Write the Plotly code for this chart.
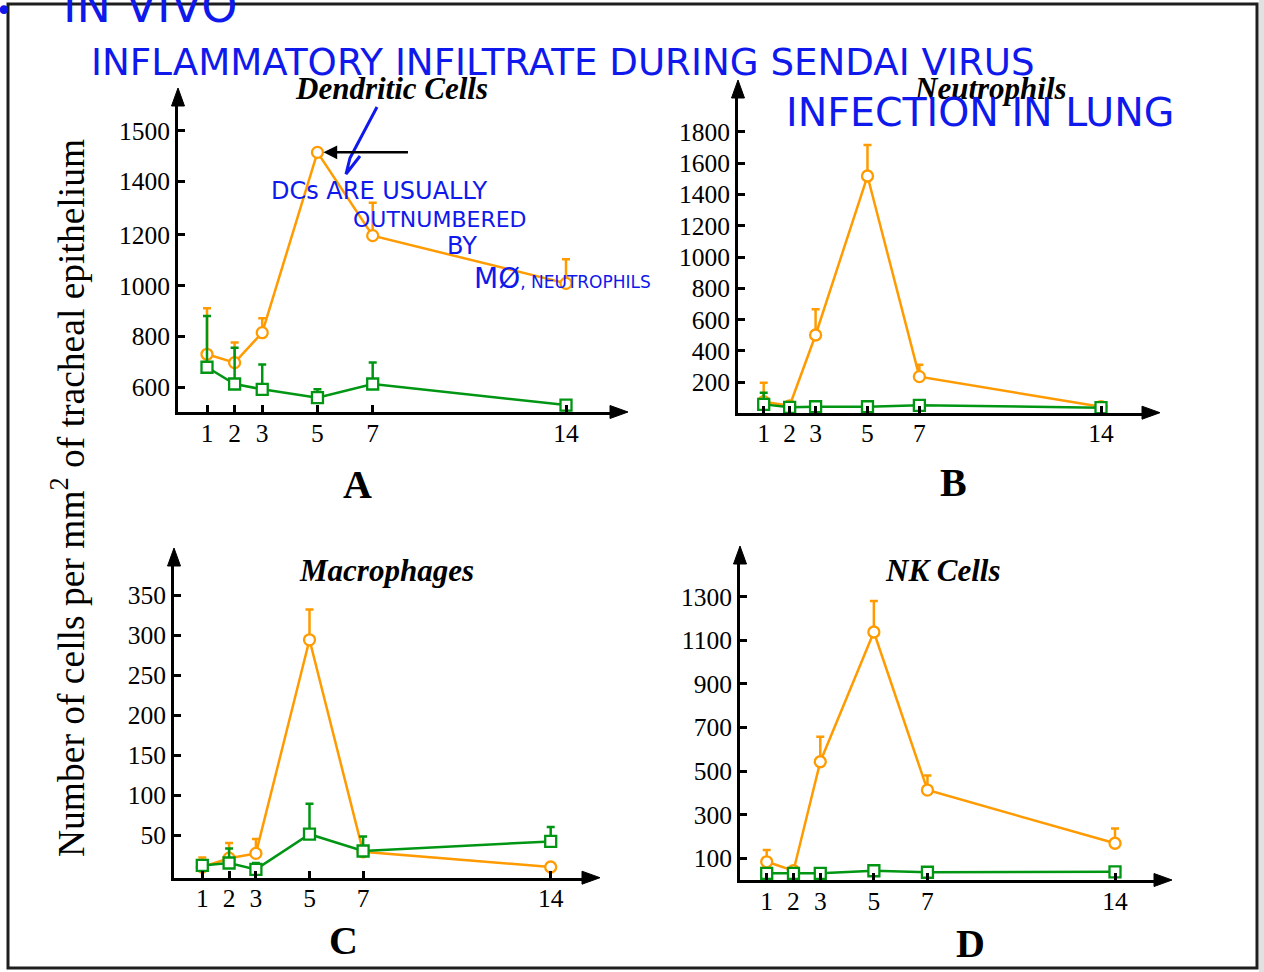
import plotly.graph_objects as go

W, H = 1264, 972

# ---------------- data ----------------
days = [1, 2, 3, 5, 7, 14]
day_ticktext = ["1", "2", "3", "5", "7", "14"]

dc_orange = [730, 697, 815, 1525, 1197, 1009]
dc_orange_err = [181, 79, 57, 0, 130, 95]
dc_green = [679, 613, 592, 559, 613, 530]
dc_green_err = [202, 143, 98, 33, 85, 0]

neu_orange = [76, 50, 502, 1517, 236, 44]
neu_orange_err = [121, 0, 164, 198, 76, 0]
neu_green = [59, 40, 44, 44, 53, 38]
neu_green_err = [74, 0, 0, 0, 0, 0]

mac_orange = [10, 21, 27, 294, 29, 10]
mac_orange_err = [12, 19, 18, 38, 0, 0]
mac_green = [12, 15, 7, 51, 30, 42]
mac_green_err = [0, 18, 8, 38, 18, 18]

nk_orange = [84, 43, 543, 1138, 413, 169]
nk_orange_err = [54, 0, 115, 142, 67, 68]
nk_green = [31, 31, 31, 43, 36, 38]
nk_green_err = [0, 0, 0, 0, 0, 0]

dc_tickvals = [600, 800, 1000, 1200, 1410, 1610]
dc_ticktext = ["600", "800", "1000", "1200", "1400", "1500"]
neu_tickvals = [200, 400, 600, 800, 1000, 1200, 1400, 1600, 1800]
mac_tickvals = [50, 100, 150, 200, 250, 300, 350]
nk_tickvals = [100, 300, 500, 700, 900, 1100, 1300]

titles = ["Dendritic Cells", "Neutrophils", "Macrophages", "NK Cells"]
letters = ["A", "B", "C", "D"]

ORANGE = "rgb(255,155,0)"
GREEN = "rgb(0,150,20)"
BLUE = "rgb(15,25,235)"
SERIF = "Liberation Serif"
HAND = "DejaVu Sans"


def px(x):
    return x / W


def py(y):
    return 1 - y / H


# panel geometry (pixels): origin, arrow tips, day-1/day-14 pixel, y calibration
panels = [
    dict(ox=178, oy=412, xtip=628, ytip=88, d1=207, d14=566, cal=(600, 387.3, 1000, 285.7),
         tv=dc_tickvals, tt=dc_ticktext, tc=(391, 88), lc=(357, 485),
         series=(dc_orange, dc_orange_err, dc_green, dc_green_err)),
    dict(ox=738, oy=412.7, xtip=1160, ytip=80, d1=763.7, d14=1101, cal=(200, 382.3, 1800, 131.7),
         tv=neu_tickvals, tt=[str(v) for v in neu_tickvals], tc=(990, 88), lc=(953, 482),
         series=(neu_orange, neu_orange_err, neu_green, neu_green_err)),
    dict(ox=174, oy=877.7, xtip=600, ytip=548, d1=202.3, d14=550.7, cal=(50, 835, 350, 595),
         tv=mac_tickvals, tt=[str(v) for v in mac_tickvals], tc=(386, 570), lc=(343, 940),
         series=(mac_orange, mac_orange_err, mac_green, mac_green_err)),
    dict(ox=740, oy=880, xtip=1172, ytip=546, d1=766.7, d14=1115, cal=(100, 858.3, 1300, 596.7),
         tv=nk_tickvals, tt=[str(v) for v in nk_tickvals], tc=(943, 570), lc=(970, 943),
         series=(nk_orange, nk_orange_err, nk_green, nk_green_err)),
]

HEAD = 18
HALF = 6.5

fig = go.Figure()
layout = dict(
    width=W, height=H, margin=dict(l=0, r=0, t=0, b=0),
    paper_bgcolor="white", plot_bgcolor="rgba(0,0,0,0)", showlegend=False,
)
shapes = []
annotations = []

for i, p in enumerate(panels):
    n = "" if i == 0 else str(i + 1)
    ppd = (p["d14"] - p["d1"]) / 13.0
    xend = p["xtip"] - HEAD
    x0 = 1 + (p["ox"] - p["d1"]) / ppd
    x1 = 1 + (xend - p["d1"]) / ppd
    v0, p0, v1, p1 = p["cal"]
    ppu = (p0 - p1) / (v1 - v0)
    yend = p["ytip"] + HEAD
    y0 = v0 - (p["oy"] - p0) / ppu
    y1 = v0 + (p0 - yend) / ppu

    common = dict(showline=True, linecolor="black", linewidth=3, ticks="inside", ticklen=7,
                  tickwidth=2.5, tickcolor="black", showgrid=False, zeroline=False,
                  fixedrange=True, tickfont=dict(family=SERIF, size=25.5, color="black"))
    layout["xaxis" + n] = dict(domain=[px(p["ox"]), px(xend)], range=[x0, x1], anchor="y" + n,
                               tickmode="array", tickvals=days, ticktext=day_ticktext,
                               ticklabelstandoff=-4, **common)
    layout["yaxis" + n] = dict(domain=[py(p["oy"]), py(yend)], range=[y0, y1], anchor="x" + n,
                               tickmode="array", tickvals=p["tv"], ticktext=p["tt"],
                               ticklabelstandoff=0, **common)

    o, oe, g, ge = p["series"]
    for vals, errs, color, sym in [(o, oe, ORANGE, "circle"), (g, ge, GREEN, "square")]:
        fig.add_trace(go.Scatter(
            x=days, y=vals, xaxis="x" + n, yaxis="y" + n, mode="lines+markers",
            line=dict(color=color, width=2.5),
            marker=dict(symbol=sym, size=11, color="white", line=dict(color=color, width=2.3)),
            error_y=dict(type="data", symmetric=False, array=errs, arrayminus=[0] * len(errs),
                         color=color, thickness=2.5, width=4),
            cliponaxis=False, hoverinfo="skip"))

    # arrow heads
    yy = py(p["oy"])
    shapes.append(dict(type="path", xref="paper", yref="paper",
                       path=f"M {px(xend)},{py(p['oy'] - HALF)} L {px(p['xtip'])},{yy} L {px(xend)},{py(p['oy'] + HALF)} Z",
                       fillcolor="black", line=dict(color="black", width=1)))
    xx = px(p["ox"])
    shapes.append(dict(type="path", xref="paper", yref="paper",
                       path=f"M {px(p['ox'] - HALF)},{py(yend)} L {xx},{py(p['ytip'])} L {px(p['ox'] + HALF)},{py(yend)} Z",
                       fillcolor="black", line=dict(color="black", width=1)))

    annotations.append(dict(text=f"<b><i>{titles[i]}</i></b>", x=px(p["tc"][0]), y=py(p["tc"][1]),
                            xref="paper", yref="paper", showarrow=False, xanchor="center", yanchor="middle",
                            font=dict(family=SERIF, size=31, color="black")))
    annotations.append(dict(text=f"<b>{letters[i]}</b>", x=px(p["lc"][0]), y=py(p["lc"][1]),
                            xref="paper", yref="paper", showarrow=False, xanchor="center", yanchor="middle",
                            font=dict(family=SERIF, size=40, color="black")))

# y-axis title
annotations.append(dict(text="Number of cells per mm<sup>2</sup> of tracheal epithelium",
                        x=px(68), y=py(498), xref="paper", yref="paper", showarrow=False, textangle=-90,
                        xanchor="center", yanchor="middle", font=dict(family=SERIF, size=37.5, color="black")))

# black arrow pointing at DC peak
annotations.append(dict(text="", x=days[3], y=dc_orange[3], xref="x", yref="y", showarrow=True,
                        ax=92, ay=0, arrowhead=2, arrowsize=1.1, arrowwidth=2.5, arrowcolor="black",
                        standoff=6))

# handwritten notes
hand = [
    ("•", 4, 10, 30),
    ("IN VIVO", 150, 6, 46),
    ("INFLAMMATORY INFILTRATE DURING SENDAI VIRUS", 563, 62, 37.2),
    ("INFECTION IN LUNG", 980, 112, 39.5),
    ("DCs ARE USUALLY", 379, 191, 24),
    ("OUTNUMBERED", 440, 220, 22),
    ("BY", 462, 246, 24),
    ("<span style='font-size:28px'>MØ</span>, NEUTROPHILS", 562, 278, 17),
]
for t, x, y, s in hand:
    annotations.append(dict(text=t, x=px(x), y=py(y), xref="paper", yref="paper", showarrow=False,
                            xanchor="center", yanchor="middle", font=dict(family=HAND, size=s, color=BLUE)))

# handwritten check stroke
stroke = [(377, 107), (350, 158), (346, 174), (360, 156)]
path = "M " + " L ".join(f"{px(a)},{py(b)}" for a, b in stroke)
shapes.append(dict(type="path", xref="paper", yref="paper", path=path,
                   line=dict(color=BLUE, width=3)))

# frame
shapes.append(dict(type="rect", xref="paper", yref="paper", x0=px(1259), x1=1, y0=0, y1=1,
                   fillcolor="rgb(225,225,225)", line=dict(width=0), layer="below"))
shapes.append(dict(type="rect", xref="paper", yref="paper", x0=px(8), x1=px(1257), y0=py(968), y1=py(4),
                   line=dict(color="rgb(30,30,30)", width=3), layer="below"))

layout["shapes"] = shapes
layout["annotations"] = annotations
fig.update_layout(**layout)
fig.write_html("out.html")
